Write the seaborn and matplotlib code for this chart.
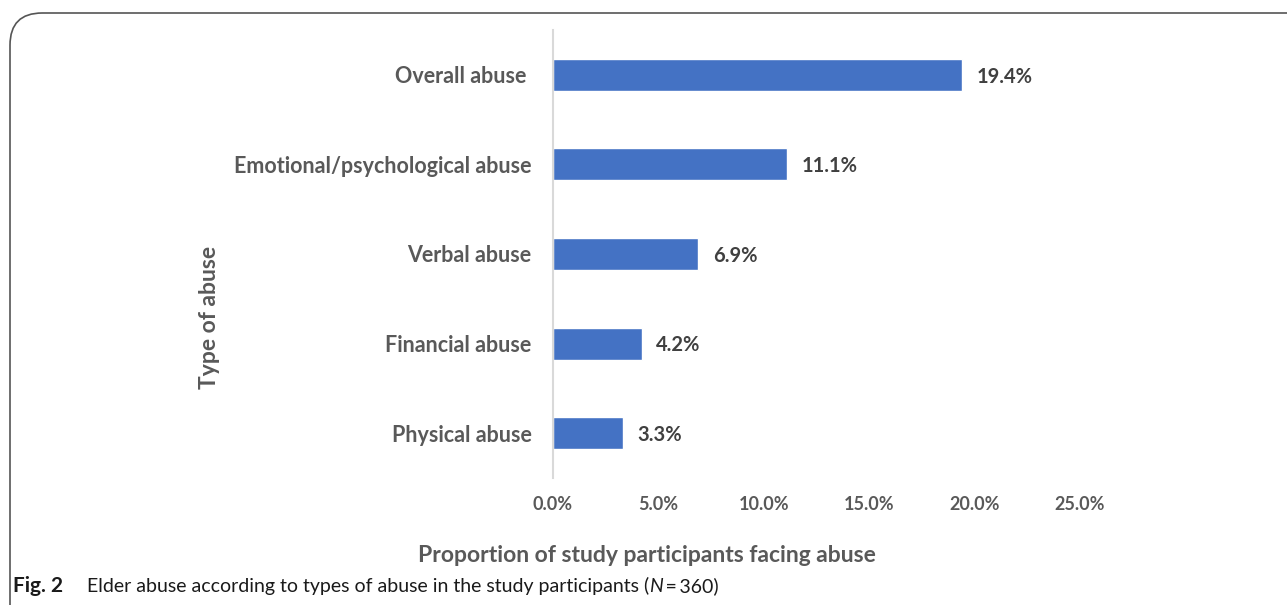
import matplotlib
matplotlib.use("Agg")
import matplotlib.pyplot as plt
import seaborn as sns
import pandas as pd
from matplotlib.patches import FancyBboxPatch
from matplotlib.ticker import FuncFormatter

categories = ["Overall abuse ", "Emotional/psychological abuse", "Verbal abuse",
              "Financial abuse", "Physical abuse"]
values = [19.4, 11.1, 6.9, 4.2, 3.3]
x_ticks = [0, 5, 10, 15, 20, 25]

sns.set_theme(style="white")
plt.rcParams['font.family'] = ['Lato', 'DejaVu Sans']

W, H = 1287, 605
fig = plt.figure(figsize=(W / 100, H / 100), dpi=100)
ax = fig.add_axes([553 / W, 1 - 478 / H, (1080 - 553) / W, (478 - 30) / H])

df = pd.DataFrame({"type": categories, "pct": values})
sns.barplot(data=df, x="pct", y="type", orient="h", color="#4472C4",
            saturation=1, width=0.355, ax=ax)

ax.set_xlim(0, 25)
ax.set_xticks(x_ticks)
ax.xaxis.set_major_formatter(FuncFormatter(lambda v, p: f"{v:.1f}%"))
for s in ["top", "right", "bottom"]:
    ax.spines[s].set_visible(False)
ax.spines["left"].set_color("#d9d9d9")
ax.spines["left"].set_linewidth(1.5)
ax.tick_params(axis="both", length=0)
ax.tick_params(axis="y", pad=15.5, labelsize=15.5, labelcolor="#595959")
ax.tick_params(axis="x", pad=13, labelsize=13, labelcolor="#595959")
for lab in ax.get_yticklabels() + ax.get_xticklabels():
    lab.set_fontweight("bold")

for i, v in enumerate(values):
    ax.text(v + 0.7, i + 0.02, f"{v:.1f}%", va="center", ha="left", fontsize=14.5,
            fontweight="bold", color="#404040")

ax.set_xlabel("")
ax.set_ylabel("")
fig.text(647 / W, 1 - 555 / H, "Proportion of study participants facing abuse",
         fontsize=16.5, fontweight="bold", color="#595959", ha="center", va="center")
fig.text(210 / W, 1 - 317 / H, "Type of abuse", fontsize=16.5, fontweight="bold",
         color="#595959", ha="center", va="center", rotation=90)

# frame around figure
frame = FancyBboxPatch((10 / W, -0.1), 1.2, 1 - 13 / H + 0.1,
                       boxstyle="round,pad=0,rounding_size=0.025",
                       transform=fig.transFigure, fill=False,
                       edgecolor="#555555", linewidth=1.2, mutation_aspect=W / H)
fig.patches.append(frame)

# caption
fig.text(13 / W, 1 - 586 / H, "Fig. 2", fontsize=15, fontweight="bold",
         color="#1a1a1a", va="center", ha="left", family="Lato")
fig.canvas.draw()
r = fig.canvas.get_renderer()
t2 = fig.text(87 / W, 1 - 586 / H,
              "Elder abuse according to types of abuse in the study participants (",
              fontsize=14, color="#1a1a1a", va="center", ha="left", family="Lato")
bb2 = t2.get_window_extent(r)
t3 = fig.text(bb2.x1 / W, 1 - 586 / H, "N", fontsize=14, style="italic",
              color="#1a1a1a", va="center", ha="left", family="Lato")
bb3 = t3.get_window_extent(r)
fig.text(bb3.x1 / W, 1 - 586 / H, "\u2009=\u2009360)", fontsize=14,
         color="#1a1a1a", va="center", ha="left", family=["Lato", "DejaVu Sans"])

fig.savefig("out.png", dpi=100)
